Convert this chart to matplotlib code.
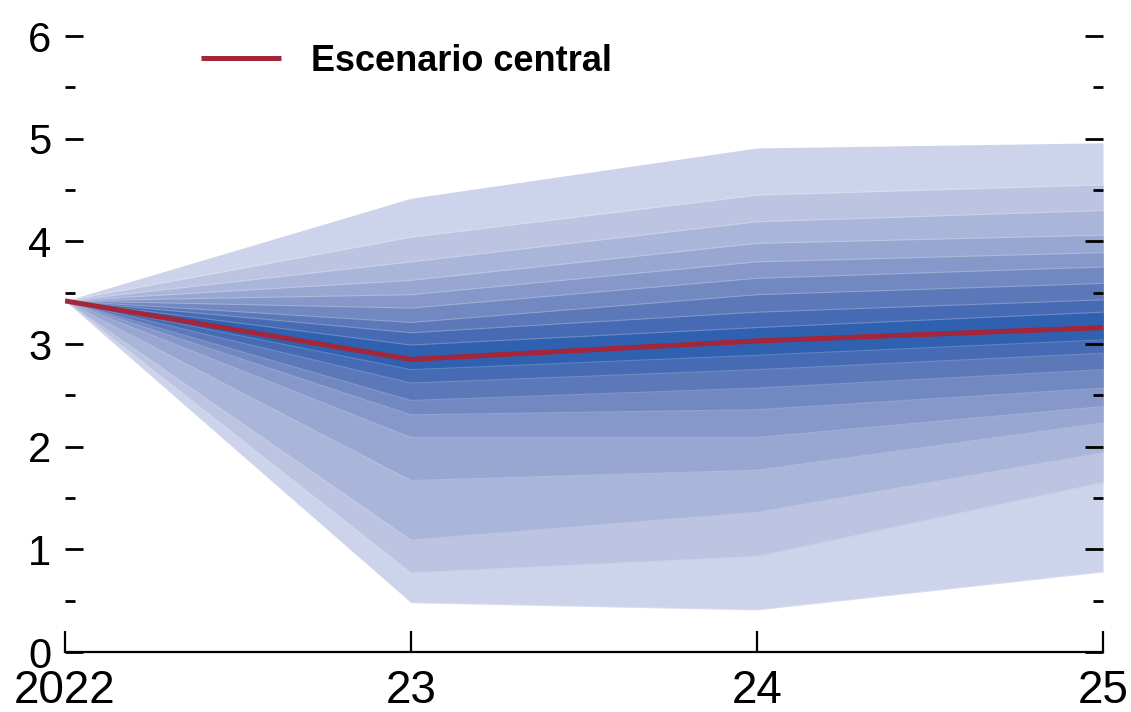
import matplotlib
matplotlib.use("Agg")
import matplotlib.pyplot as plt
from matplotlib.ticker import MultipleLocator, FixedLocator

years = [2022, 2023, 2024, 2025]
xlabels = ["2022", "23", "24", "25"]
central = [3.42, 2.85, 3.03, 3.16]

# band boundaries, outermost to innermost (upper and lower)
upper = [
    [3.42, 4.42, 4.91, 4.96],
    [3.42, 4.04, 4.45, 4.55],
    [3.42, 3.80, 4.19, 4.30],
    [3.42, 3.62, 3.98, 4.06],
    [3.42, 3.48, 3.80, 3.89],
    [3.42, 3.35, 3.64, 3.75],
    [3.42, 3.21, 3.48, 3.59],
    [3.42, 3.11, 3.31, 3.43],
    [3.42, 2.99, 3.16, 3.31],
]
lower = [
    [3.42, 0.48, 0.41, 0.78],
    [3.42, 0.77, 0.93, 1.65],
    [3.42, 1.09, 1.36, 1.94],
    [3.42, 1.67, 1.77, 2.23],
    [3.42, 2.09, 2.09, 2.39],
    [3.42, 2.31, 2.36, 2.57],
    [3.42, 2.45, 2.57, 2.75],
    [3.42, 2.62, 2.75, 2.91],
    [3.42, 2.75, 2.89, 3.04],
]
band_colors = ["#cdd3ea", "#bcc4e2", "#aab5da", "#98a7d2", "#8698c9",
               "#7188c1", "#5c78b9", "#466ab4", "#2f61b0"]

fig = plt.figure(figsize=(11.31, 7.12), dpi=100)
ax = fig.add_axes([65/1131, 60/712, 1038/1131, 616/712])

for up, lo, c in zip(upper, lower, band_colors):
    ax.fill_between(years, lo, up, color=c, linewidth=0)
    ax.plot(years, up, color="white", alpha=0.22, linewidth=0.8)
    ax.plot(years, lo, color="white", alpha=0.22, linewidth=0.8)

ax.plot(years, central, color="#a3263a", linewidth=3.6, label="Escenario central",
        solid_capstyle="butt", zorder=5)

ax.set_xlim(2022, 2025)
ax.set_ylim(0, 6)
for s in ["top", "left", "right"]:
    ax.spines[s].set_visible(False)
ax.spines["bottom"].set_linewidth(1.6)

ax.xaxis.set_major_locator(FixedLocator(years))
ax.set_xticklabels(xlabels, family=["Liberation Sans"], fontsize=33)
ax.tick_params(axis="x", direction="in", length=15, width=1.6, pad=12)

ax.yaxis.set_major_locator(MultipleLocator(1))
ax.yaxis.set_minor_locator(MultipleLocator(0.5))
ax.tick_params(axis="y", which="major", direction="in", length=13, width=2,
               left=True, right=True, labelleft=True, labelright=False, pad=10,
               labelsize=30)
ax.tick_params(axis="y", which="minor", direction="in", length=7, width=2,
               left=True, right=True)
for lab in ax.get_yticklabels():
    lab.set_family(["Liberation Sans"])

leg = ax.legend(loc="upper left", bbox_to_anchor=(0.10, 1.04), frameon=False,
                handlelength=2.2, handletextpad=0.85,
                prop={"family": "Liberation Sans", "weight": "bold", "size": 26})

fig.savefig("out.png", dpi=100)
